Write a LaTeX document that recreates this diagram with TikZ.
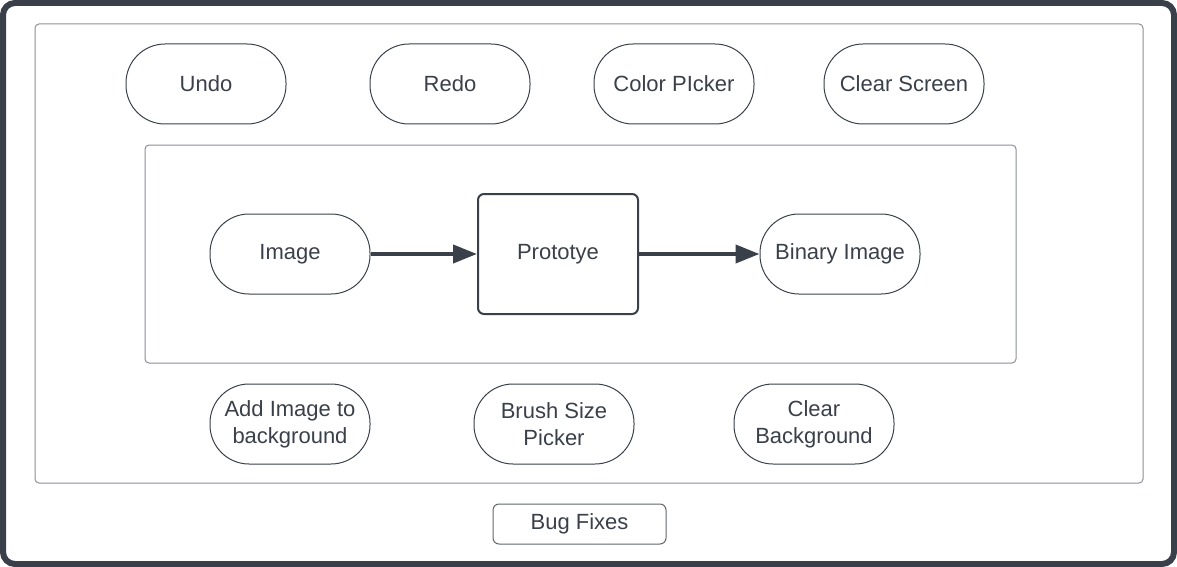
\documentclass[tikz,border=0pt]{standalone}
\usepackage{fontspec}
\setmainfont{Liberation Sans}
\usepackage{xcolor}
\usetikzlibrary{arrows.meta}
\definecolor{ink}{HTML}{3A4049}
\definecolor{frame}{HTML}{8A8F96}
\tikzset{pill/.style={draw=ink,line width=0.5pt,rounded corners=19.5pt,
   minimum width=80pt,minimum height=40pt,align=center,text=ink,
   font=\fontsize{11}{13.5}\selectfont},
 proto/.style={draw=ink,line width=1pt,rounded corners=3pt,
   minimum width=80pt,minimum height=60pt,text=ink,
   font=\fontsize{11}{13.5}\selectfont},
 flow/.style={draw=ink,line width=2pt,-{Triangle[length=12pt,width=9pt]}},
 box/.style={draw=frame,line width=0.5pt,rounded corners=2pt},
 }
\begin{document}
\begin{tikzpicture}[x=0.5pt,y=-0.5pt]
        \useasboundingbox (0,0) rectangle (1177,567);
        \draw[ink,line width=3pt,rounded corners=6pt] (3,3) rectangle (1174,564);
        \draw[box] (35,24) rectangle (1143,483);
        \draw[box] (145,145) rectangle (1016,363);
        % top row
        \node[pill] (undo) at (206,84) {Undo};
        \node[pill] (redo) at (450,84) {Redo};
        \node[pill] (picker) at (674,84) {Color PIcker};
        \node[pill] (clear) at (904,84) {Clear Screen};
        % flow
        \node[pill] (img) at (290,254) {Image};
        \node[proto] (proto) at (558,254) {Prototye};
        \node[pill] (bin) at (840,254) {Binary Image};
        \draw[flow] (img) -- (proto);
        \draw[flow] (proto) -- (bin);
        % bottom row
        \node[pill] (addimg) at (290,424) {Add Image to\\background};
        \node[pill] (brush) at (554,424) {Brush Size\\Picker};
        \node[pill] (clearbg) at (814,424) {Clear\\Background};
        \node[draw=ink!80,line width=0.5pt,rounded corners=3pt,minimum width=86.5pt,
              minimum height=20pt,text=ink,font=\fontsize{11}{12}\selectfont]
              (bugs) at (579.5,524) {Bug Fixes};
    \end{tikzpicture}
\end{document}
